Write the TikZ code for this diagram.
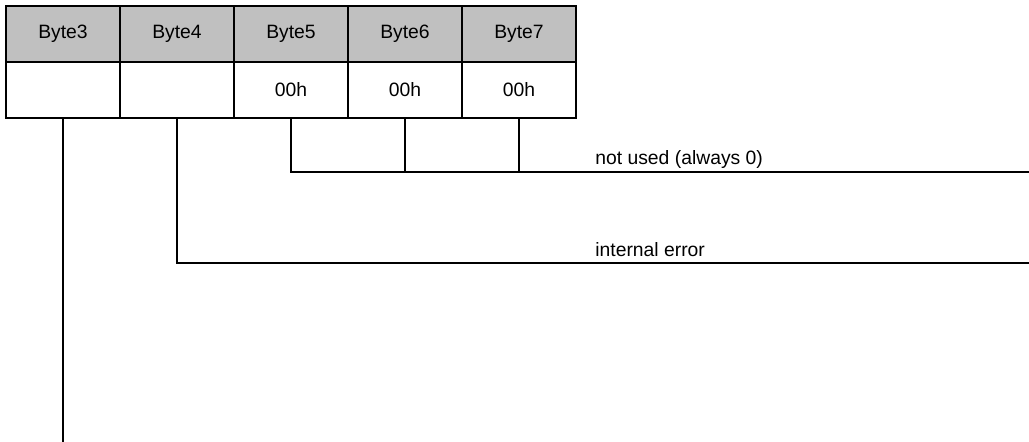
\documentclass[tikz,border=0pt]{standalone}
\usepackage{fontspec}
\setmainfont{Liberation Sans}
\usetikzlibrary{positioning}
\definecolor{headgray}{RGB}{192,192,192}
\tikzset{
    % table cells
    cell/.style={draw, line width=1.3pt, minimum width=2.28cm, minimum height=1.12cm,
        inner sep=0pt, font=\fontsize{11}{13}\selectfont},
    headcell/.style={cell, fill=headgray},
    valcell/.style={cell, fill=white},
    % bit lines and their labels
    bitline/.style={line width=1.3pt},
    bitlabel/.style={font=\fontsize{11}{13}\selectfont, anchor=base west, inner sep=0pt},
}
\begin{document}
\begin{tikzpicture}[x=0.02cm, y=-0.02cm]
\useasboundingbox (0,0) rectangle (1029,442);

% ===== Byte table =====
\foreach \i/\v [count=\k from 0] in {3/{},4/{},5/00h,6/00h,7/00h} {
    \node[headcell] (h\i) at ({63+114*\k},34) {Byte\i};
    \node[valcell] (v\i) at ({63+114*\k},90) {\v};
}

% ===== Line ends =====
\coordinate (end3) at (63,442);
\coordinate (end4) at (1029,263);
\coordinate (end5) at (1029,172);

% ===== Bit lines =====
\draw[bitline] (v3.south) -- (end3);
\draw[bitline] (v4.south) |- (end4);
\draw[bitline] (v5.south) |- (end5);
\draw[bitline] (v6.south) -- (v6.south |- end5);
\draw[bitline] (v7.south) -- (v7.south |- end5);

% ===== Labels =====
\node[bitlabel] (lblunused) at (595,165) {not used (always 0)};
\node[bitlabel] (lblerror) at (595,257) {internal error};

\end{tikzpicture}
\end{document}
